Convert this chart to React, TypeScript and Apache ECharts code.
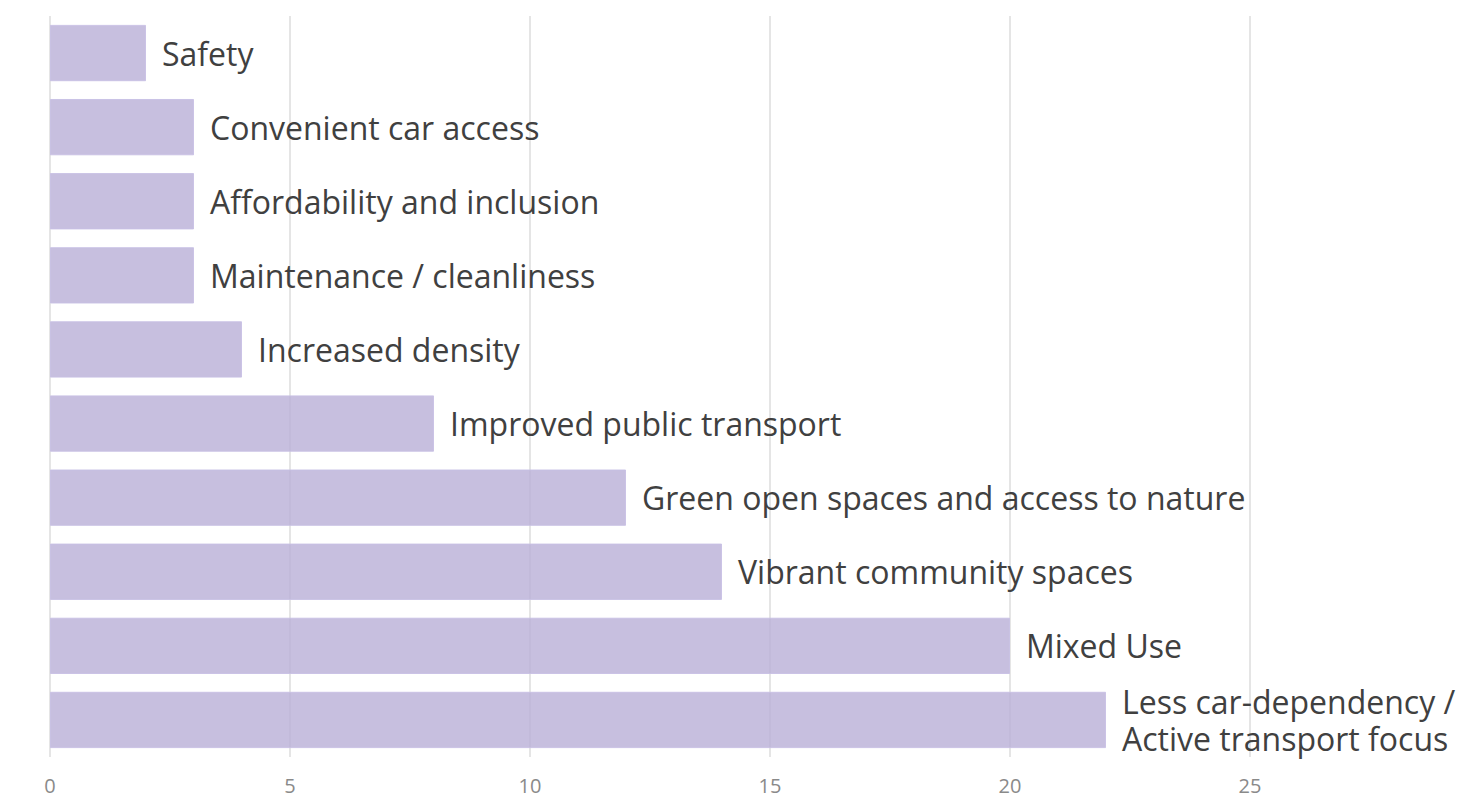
import React, { useEffect, useRef } from "react";
import * as echarts from "echarts";

const categories = [
  "Safety",
  "Convenient car access",
  "Affordability and inclusion",
  "Maintenance / cleanliness",
  "Increased density",
  "Improved public transport",
  "Green open spaces and access to nature",
  "Vibrant community spaces",
  "Mixed Use",
  "Less car-dependency /\nActive transport focus",
];
const values = [2, 3, 3, 3, 4, 8, 12, 14, 20, 22];
const xTicks = { min: 0, max: 30, interval: 5 };

export default function App() {
  const ref = useRef<HTMLDivElement>(null);
  useEffect(() => {
    document.body.style.margin = "0";
    const chart = echarts.init(ref.current!, null, { renderer: "svg" });
    chart.setOption({
      animation: false,
      grid: {
        left: 50,
        right: -22,
        top: 16,
        bottom: 42,
        containLabel: false,
        outerBoundsMode: "none",
      },
      xAxis: {
        type: "value",
        min: xTicks.min,
        max: xTicks.max,
        interval: xTicks.interval,
        axisLine: { show: false },
        axisTick: { show: false },
        splitLine: { show: true, lineStyle: { color: "#dcdcdc", width: 1.5 } },
        axisLabel: {
          color: "#8a8a8a",
          fontSize: 20,
          fontFamily: "Open Sans",
          margin: 18,
          showMaxLabel: false,
        },
      },
      yAxis: {
        type: "category",
        data: categories,
        inverse: true,
        axisLine: { show: false },
        axisTick: { show: false },
        axisLabel: { show: false },
        splitLine: { show: false },
      },
      series: [
        {
          type: "bar",
          data: values,
          barCategoryGap: "24%",
          itemStyle: {
            color: "rgba(185,175,215,0.8)",
            borderColor: "rgba(200,192,228,0.9)",
            borderWidth: 1,
          },
          label: {
            show: true,
            position: "right",
            distance: 16,
            color: "#404040",
            fontSize: 32,
            fontFamily: "Open Sans",
            lineHeight: 37,
            align: "left",
            formatter: (p: any) => categories[p.dataIndex],
          },
        },
      ],
    });
    return () => chart.dispose();
  }, []);
  return <div ref={ref} style={{ width: 1468, height: 799 }} />;
}
